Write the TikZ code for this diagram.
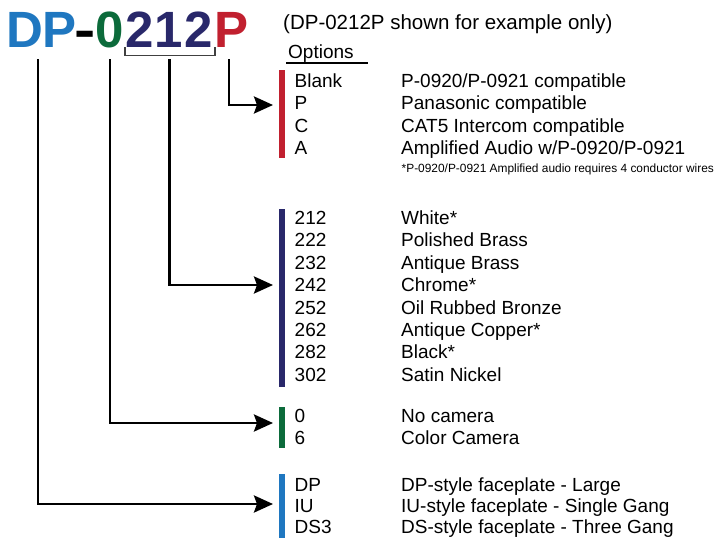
\documentclass[tikz,border=0pt]{standalone}
\usepackage{fontspec}
\setmainfont{Liberation Sans}
\usetikzlibrary{arrows.meta}
\definecolor{cblue}{HTML}{1F77C0}
\definecolor{cgreen}{HTML}{0C6B3B}
\definecolor{cnavy}{HTML}{29286A}
\definecolor{cred}{HTML}{C1202F}
\begin{document}
\begin{tikzpicture}[x=1pt,y=-1pt,
  big/.style={inner sep=0pt, anchor=base, font=\fontsize{51}{51}\selectfont\bfseries},
  rowtxt/.style={inner sep=0pt, anchor=base west, font=\fontsize{19}{22}\selectfont},
  bar/.style={inner sep=0pt, minimum width=6pt, anchor=north west, draw=none},
  conn/.style={line width=2.9pt, -{Stealth[length=19pt,width=17pt,inset=3pt]}, line join=miter},
]
\useasboundingbox (0,0) rectangle (717,538);
% title part number
\node[big, text=cblue] (tDP) at (41.5,47) {DP};
\node[big] (tdash) at (85,47) {\scalebox{1.25}[1]{-}};
\node[big, text=cgreen] (t0) at (110,47) {0};
\node[big, text=cnavy] (t2a) at (139.5,47) {2};
\node[big, text=cnavy] (t1) at (168.5,47) {1};
\node[big, text=cnavy] (t2b) at (198.5,47) {2};
\node[big, text=cred] (tP) at (232,47) {P};
% bracket under 212
\draw[line width=1.2pt, black!75] (125,47) -- (125,55.5) -- (215,55.5) -- (215,47);
% note and options
\node[inner sep=0pt, anchor=base west, font=\fontsize{20.5}{24}\selectfont] (note) at (283,29) {(DP-0212P shown for example only)};
\node[inner sep=0pt, anchor=base west, font=\fontsize{19}{22}\selectfont] (opt) at (288,58) {Options};
\draw[line width=1.5pt] (286,63) -- (368,63);
% bars
\node[bar, fill=cred, minimum height=88pt] (barR) at (279,70) {};
\node[bar, fill=cnavy, minimum height=178pt] (barN) at (279,209) {};
\node[bar, fill=cgreen, minimum height=41pt] (barG) at (279,407) {};
\node[bar, fill=cblue, minimum height=64pt] (barB) at (279,474) {};
% red rows
\foreach \a/\b/\y [count=\i] in {Blank/P-0920\slash P-0921 compatible/87,
  P/Panasonic compatible/109.5, C/CAT5 Intercom compatible/132,
  A/Amplified Audio w\slash P-0920\slash P-0921/154.5}{
  \node[rowtxt] (rA\i) at (294.5,\y) {\a};
  \node[rowtxt] (rB\i) at (401,\y) {\b};
}
\node[inner sep=0pt, anchor=base west, font=\fontsize{11.9}{14}\selectfont] (foot) at (401.5,172) {*P-0920/P-0921 Amplified audio requires 4 conductor wires};
% navy rows
\foreach \a/\b/\y [count=\i] in {212/White*/224, 222/Polished Brass/246.5,
  232/Antique Brass/269, 242/Chrome*/291.5, 252/Oil Rubbed Bronze/314,
  262/Antique Copper*/336.5, 282/Black*/358.5, 302/Satin Nickel/381}{
  \node[rowtxt] (nA\i) at (294.5,\y) {\a};
  \node[rowtxt] (nB\i) at (401,\y) {\b};
}
% green rows
\node[rowtxt] (gA1) at (294.5,422) {0};
\node[rowtxt] (gB1) at (401,422) {No camera};
\node[rowtxt] (gA2) at (294.5,444) {6};
\node[rowtxt] (gB2) at (401,444) {Color Camera};
% blue rows
\node[rowtxt] (bA1) at (294.5,491) {DP};
\node[rowtxt] (bB1) at (401,491) {DP-style faceplate - Large};
\node[rowtxt] (bA2) at (294.5,512.5) {IU};
\node[rowtxt] (bB2) at (401,512.5) {IU-style faceplate - Single Gang};
\node[rowtxt] (bA3) at (294.5,533.5) {DS3};
\node[rowtxt] (bB3) at (401,533.5) {DS-style faceplate - Three Gang};
% connectors
\coordinate (sDP) at (38,59);
\coordinate (s0) at (110,59);
\coordinate (s212) at (169.5,59);
\coordinate (sP) at (229,59);
\coordinate (eDP) at (273,504);
\coordinate (e0) at (273,423);
\coordinate (e212) at (273,285);
\coordinate (eP) at (273,105);
\draw[conn] (sDP) |- (eDP);
\draw[conn] (s0) |- (e0);
\draw[conn] (s212) |- (e212);
\draw[conn] (sP) |- (eP);
\end{tikzpicture}
\end{document}
